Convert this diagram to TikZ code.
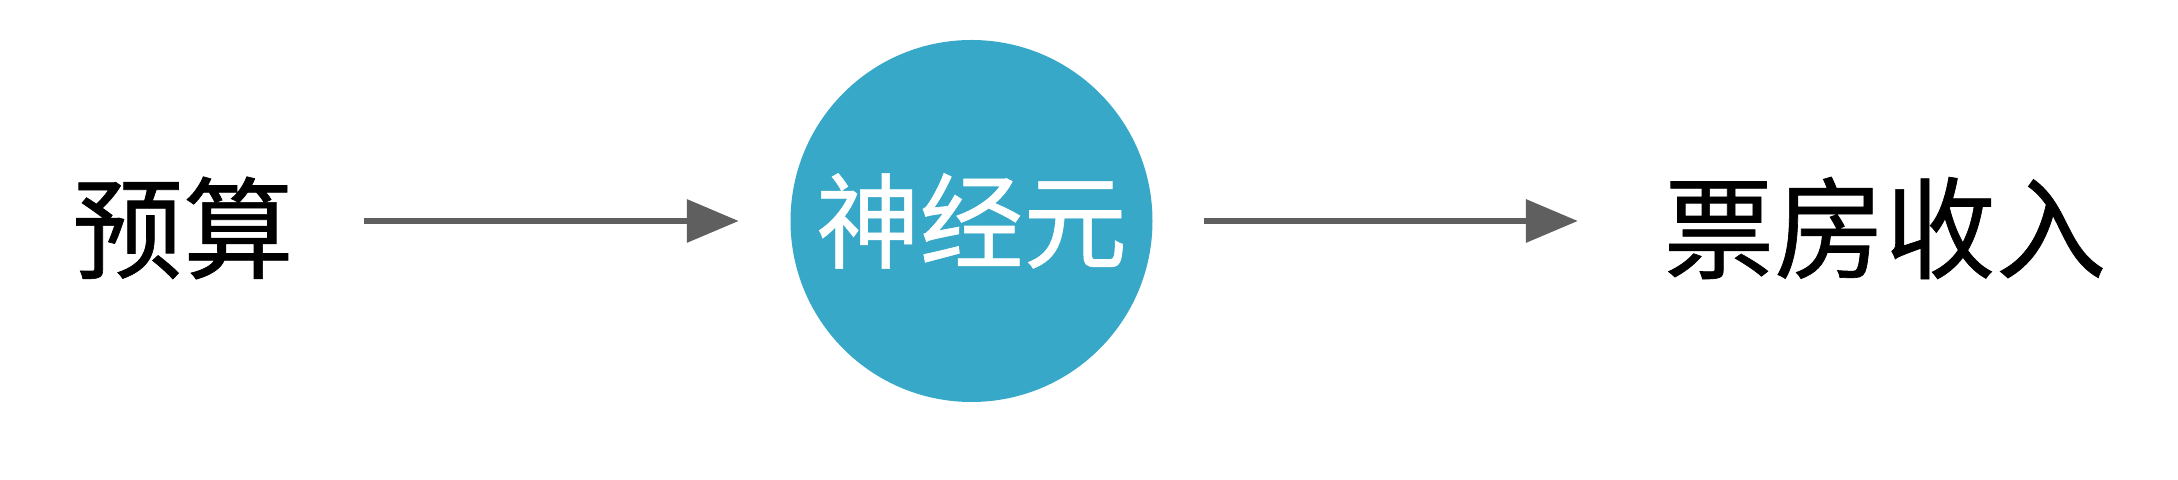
\documentclass[tikz,border=0pt]{standalone}
\usepackage{fontspec}
\setmainfont{Noto Sans CJK SC}[FakeBold=0.6]
\usetikzlibrary{arrows.meta,positioning}
\definecolor{neuronblue}{HTML}{38A8C9}
\definecolor{arrowgray}{HTML}{5F5F5F}
\tikzset{
  word/.style = {align=center, inner sep=0pt, font=\fontsize{31.5}{36}\selectfont,
    text=black},% input / output text
  neuron/.style = {circle, fill=neuronblue, draw=none, minimum size=3.62cm,
    inner sep=0pt, text=white, font=\fontsize{29.5}{34}\selectfont},% neuron
  flow/.style = {-{Triangle[length=0.52cm,width=0.42cm]}, draw=arrowgray,
    line width=0.065cm}% arrow
}
\begin{document}
\begin{tikzpicture}
\useasboundingbox (0,0) rectangle (21.78,4.8);
\node [neuron] (n) at (9.715,2.59) {神经元};
\node [word] (budget) at (1.83,2.52) {预算};
\node [word] (revenue) at (18.85,2.52) {票房收入};
\draw [flow, shorten <=0.70cm, shorten >=0.51cm] (budget.east |- n.west) -- (n.west);
\draw [flow, shorten <=0.51cm, shorten >=0.85cm] (n.east) -- (revenue.west |- n.east);
\end{tikzpicture}
\end{document}
